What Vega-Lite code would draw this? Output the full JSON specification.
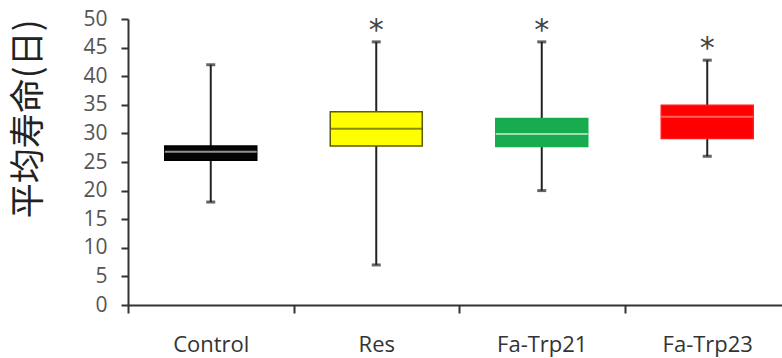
{
  "$schema": "https://vega.github.io/schema/vega-lite/v6.json",
  "width": 654,
  "height": 286,
  "autosize": {"type": "none"},
  "padding": {"left": 128, "top": 19, "right": 0, "bottom": 53},
  "background": "white",
  "config": {
    "view": {"stroke": null},
    "font": "Open Sans",
    "axisY": {
      "grid": false, "labelFontSize": 21, "labelColor": "#555", "labelPadding": 14,
      "labelOverlap": false, "labelFlush": false, "tickCount": 20,
      "domainColor": "#333", "domainWidth": 2, "tickColor": "#333", "tickWidth": 2, "tickSize": 7,
      "titleFont": "Noto Sans CJK SC", "titleFontSize": 35, "titleFontWeight": "normal",
      "titleColor": "#222", "titleAnchor": "end", "titlePadding": 36
    }
  },
  "data": {"values": [
    {"group": "Control", "min": 18, "q1": 25.3, "median": 26.8, "q3": 27.8, "max": 42, "sig": ""},
    {"group": "Res", "min": 7, "q1": 27.8, "median": 30.8, "q3": 33.8, "max": 46, "sig": "*"},
    {"group": "Fa-Trp21", "min": 20, "q1": 27.7, "median": 29.9, "q3": 32.6, "max": 46, "sig": "*"},
    {"group": "Fa-Trp23", "min": 26, "q1": 29.1, "median": 32.9, "q3": 34.9, "max": 42.8, "sig": "*"}
  ]},
  "encoding": {
    "x": {
      "field": "group", "type": "nominal", "sort": null,
      "scale": {"range": [0, 662], "paddingInner": 0, "paddingOuter": 0},
      "axis": {
        "title": null, "labelAngle": 0, "labelFontSize": 22, "labelColor": "#333",
        "labelPadding": 21, "domainColor": "#333", "domainWidth": 2,
        "tickColor": "#333", "tickWidth": 2, "tickSize": 8, "tickBand": "extent"
      }
    }
  },
  "layer": [
    {
      "mark": {"type": "rule", "color": "#222", "strokeWidth": 2},
      "encoding": {
        "y": {
          "field": "min", "type": "quantitative",
          "scale": {"domain": [0, 50], "nice": false, "zero": true},
          "axis": {"values": [0, 5, 10, 15, 20, 25, 30, 35, 40, 45, 50], "tickCount": 20, "title": "平均寿命(日)"}
        },
        "y2": {"field": "max"}
      }
    },
    {
      "mark": {"type": "tick", "color": "#222", "size": 9, "thickness": 3},
      "encoding": {"y": {"field": "min", "type": "quantitative",
        "axis": {"values": [0, 5, 10, 15, 20, 25, 30, 35, 40, 45, 50], "tickCount": 20, "title": "平均寿命(日)"}}}
    },
    {
      "mark": {"type": "tick", "color": "#222", "size": 9, "thickness": 3},
      "encoding": {"y": {"field": "max", "type": "quantitative",
        "axis": {"values": [0, 5, 10, 15, 20, 25, 30, 35, 40, 45, 50], "tickCount": 20, "title": "平均寿命(日)"}}}
    },
    {
      "mark": {"type": "bar", "size": 92, "strokeWidth": 1.5},
      "encoding": {
        "y": {"field": "q1", "type": "quantitative",
          "axis": {"values": [0, 5, 10, 15, 20, 25, 30, 35, 40, 45, 50], "tickCount": 20, "title": "平均寿命(日)"}},
        "y2": {"field": "q3"},
        "fill": {"field": "group", "type": "nominal", "legend": null,
          "scale": {"domain": ["Control", "Res", "Fa-Trp21", "Fa-Trp23"], "range": ["#050505", "#ffff00", "#17ad4e", "#ff0000"]}},
        "stroke": {"field": "group", "type": "nominal", "legend": null,
          "scale": {"domain": ["Control", "Res", "Fa-Trp21", "Fa-Trp23"], "range": ["#000000", "#5c5c00", "#17ad4e", "#ff1a1a"]}}
      }
    },
    {
      "mark": {"type": "tick", "size": 92, "thickness": 2},
      "encoding": {
        "y": {"field": "median", "type": "quantitative",
          "axis": {"values": [0, 5, 10, 15, 20, 25, 30, 35, 40, 45, 50], "tickCount": 20, "title": "平均寿命(日)"}},
        "color": {"field": "group", "type": "nominal", "legend": null,
          "scale": {"domain": ["Control", "Res", "Fa-Trp21", "Fa-Trp23"], "range": ["#cfcfcf", "#5a5a10", "#d8f2de", "#ff8c80"]}}
      }
    },
    {
      "mark": {"type": "text", "fontSize": 30, "color": "#444", "baseline": "alphabetic", "dy": -2, "font": "DejaVu Sans"},
      "encoding": {
        "y": {"field": "max", "type": "quantitative",
          "axis": {"values": [0, 5, 10, 15, 20, 25, 30, 35, 40, 45, 50], "tickCount": 20, "title": "平均寿命(日)"}},
        "text": {"field": "sig"}
      }
    }
  ]
}
